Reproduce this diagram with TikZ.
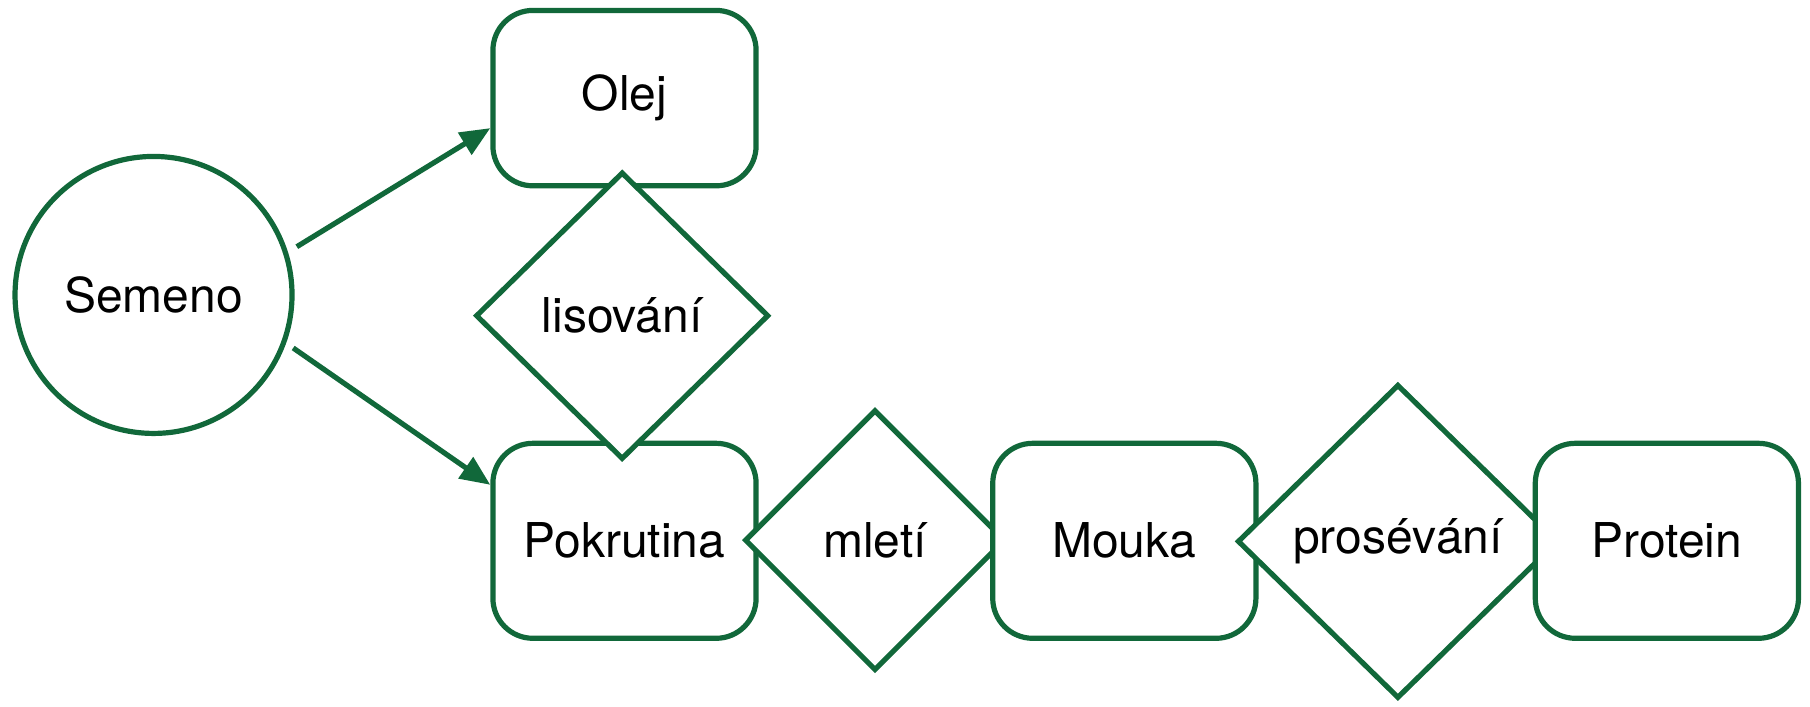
\documentclass[tikz,border=0pt]{standalone}
\usepackage{fontspec}
\setmainfont{TeX Gyre Heros}
\usetikzlibrary{shapes.geometric,arrows.meta,calc,shadows}
\definecolor{grn}{RGB}{17,104,58}
\begin{document}
\begin{tikzpicture}[x=0.5772pt,y=-0.5772pt,
 every node/.style={font=\fontsize{24}{28}\selectfont, text=black},
 shp/.style={draw=grn, line width=2.6pt, fill=white, inner sep=0pt,
   drop shadow={shadow xshift=0.8pt, shadow yshift=-1pt, opacity=0.15, fill=black}},
 box/.style={shp, rounded corners=20pt, minimum width=131.6pt},
 dia/.style={shp, diamond},
 arr/.style={draw=grn, line width=2.6pt, -{Triangle[length=15pt,width=12.5pt]}}]
\useasboundingbox (0,0) rectangle (1568,612.4);
\node[shp, circle, minimum size=138.5pt] (semeno) at (133,255.5) {Semeno};
\node[box, minimum height=87.7pt] (olej) at (541,85) {Olej};
\node[box, minimum height=97.5pt] (pokrutina) at (541,468.5) {Pokrutina};
\node[dia, minimum width=146.6pt, minimum height=143.7pt] (lisovani) at (539,273.5) {lisování};
\node[dia, minimum width=130.4pt, minimum height=130.4pt] (mleti) at (758,468) {mletí};
\node[box, minimum height=97.5pt] (mouka) at (974,468.5) {Mouka};
\node[dia, minimum width=160.5pt, minimum height=157pt] (proseva) at (1211,469) {prosévání};
\node[box, minimum height=97.5pt] (protein) at (1444,468.5) {Protein};
\draw[arr] ($(semeno.center)+(18.6:75.6pt)$) -- ([yshift=-15pt]olej.west);
\draw[arr] ($(semeno.center)+(-20.8:74.7pt)$) -- ([yshift=28pt]pokrutina.west);
\end{tikzpicture}
\end{document}
